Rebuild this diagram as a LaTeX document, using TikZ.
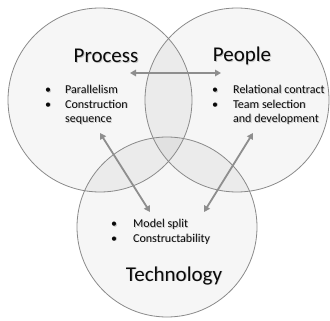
\documentclass[tikz,border=0pt]{standalone}
\usepackage{fontspec}
\setmainfont{Carlito}
\usetikzlibrary{arrows.meta}
\definecolor{rim}{HTML}{8A8A8A}
\definecolor{arr}{HTML}{8E8E8E}
\definecolor{one}{HTML}{F6F6F6}
\definecolor{two}{HTML}{EBEBEB}
\definecolor{three}{HTML}{E1E1E1}
\definecolor{txt}{HTML}{0A0A0A}
\newcommand{\shd}[1]{\makebox[0pt][l]{\hspace{0.9pt}\raisebox{-0.9pt}{\textcolor{black!22}{#1}}}#1}
\newcommand{\bul}[2]{\makebox[#1][l]{\shd{\textbullet}}\shd{#2}}
\begin{document}
\begin{tikzpicture}[x=1pt,y=-1pt,
  venn/.style={circle,draw=rim,line width=0.8pt,minimum size=184pt,inner sep=0pt},
  title/.style={font=\fontsize{21}{25}\selectfont,text=txt,inner sep=0pt},
  items/.style={font=\fontsize{12}{14.5}\selectfont,text=txt,inner sep=0pt,anchor=north west,align=left},
  link/.style={draw=arr,line width=1.8pt,{Triangle[length=6pt,width=6.5pt]}-{Triangle[length=6pt,width=6.5pt]}}]
\useasboundingbox (0,0) rectangle (330,321);
% fills
\fill[one] (100,100) circle[radius=92];
\fill[one] (237,100) circle[radius=92];
\fill[one] (167,227) circle[radius=90];
\begin{scope}
  \clip (100,100) circle[radius=92];
  \fill[two] (237,100) circle[radius=92];
  \fill[two] (167,227) circle[radius=90];
\end{scope}
\begin{scope}
  \clip (237,100) circle[radius=92];
  \fill[two] (167,227) circle[radius=90];
\end{scope}
\begin{scope}
  \clip (100,100) circle[radius=92];
  \clip (237,100) circle[radius=92];
  \fill[three] (167,227) circle[radius=90];
\end{scope}
% outlines
\node[venn] (process) at (100,100) {};
\node[venn] (people) at (237,100) {};
\node[venn,minimum size=180pt] (tech) at (167,227) {};
\node[title] (tp) at (106,56) {\shd{Process}};
\node[title] (tpe) at (242,56) {\shd{People}};
\node[title] (tt) at (174,276) {\shd{Technology}};
\node[items] (lp) at (45,85) {\bul{20pt}{Parallelism}\\\bul{20pt}{Construction}\\\makebox[20pt][l]{}\shd{sequence}};
\node[items] (lpe) at (212,85) {\bul{21pt}{Relational contract}\\\bul{21pt}{Team selection}\\\makebox[21pt][l]{}\shd{and development}};
\node[items] (lt) at (111,219) {\bul{22pt}{Model split}\\\bul{22pt}{Constructability}};
\coordinate (a1) at (130,73);
\coordinate (a2) at (221,73);
\coordinate (b1) at (100,133);
\coordinate (b2) at (150,212);
\coordinate (c1) at (253,133);
\coordinate (c2) at (204,212);
\draw[link] (a1) -- (a2);
\draw[link] (b1) -- (b2);
\draw[link] (c1) -- (c2);
\end{tikzpicture}
\end{document}
